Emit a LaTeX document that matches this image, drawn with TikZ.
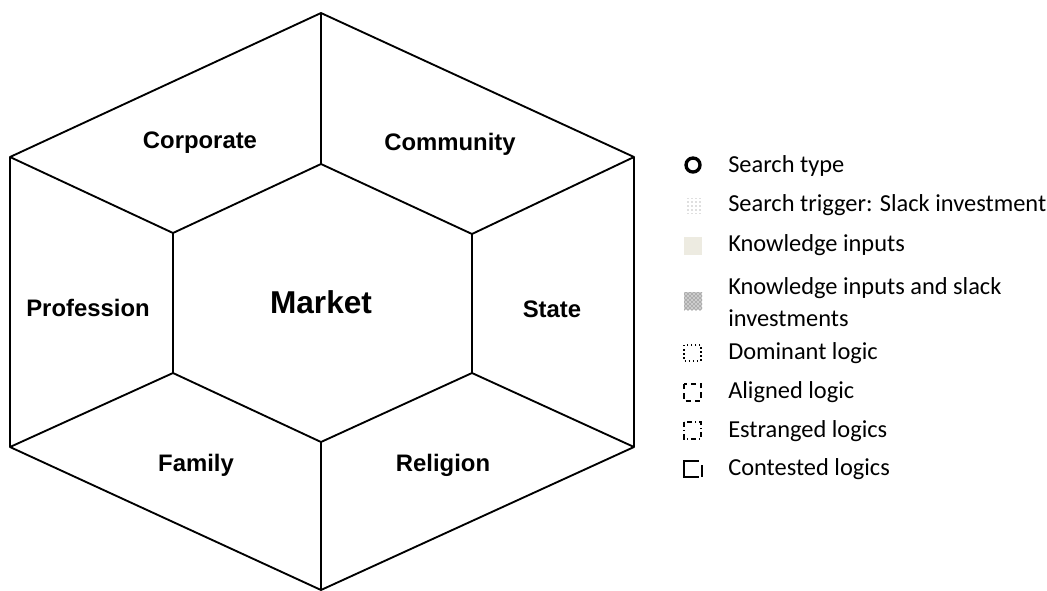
\documentclass[tikz,border=0pt]{standalone}
\usepackage{fontspec}
\setmainfont{Carlito}
\newfontfamily\headfont{Liberation Sans}
\usetikzlibrary{patterns}

\definecolor{beige}{HTML}{EDEBE1}

\tikzset{
  edge/.style={line width=1.4pt, line join=round},
  sector/.style={font=\headfont\bfseries\fontsize{17.9}{20}\selectfont, anchor=base},
  keytext/.style={font=\fontsize{18.3}{24}\selectfont, anchor=west, align=left, inner sep=0pt},
  keybox/.style={line width=1.1pt},
}

\begin{document}
\begin{tikzpicture}[x=0.75pt,y=-0.75pt]
		%%%%% START %%%%%
		\useasboundingbox (0,0) rectangle (1047,590);
		
		% outer hexagon, clockwise from the top
		\coordinate (o1) at (321,13);
		\coordinate (o2) at (634,157);
		\coordinate (o3) at (634,447);
		\coordinate (o4) at (321,590);
		\coordinate (o5) at (10,447);
		\coordinate (o6) at (10,157);
		
		% inner hexagon
		\coordinate (i1) at (321,164);
		\coordinate (i2) at (472,234);
		\coordinate (i3) at (472,373);
		\coordinate (i4) at (321,442);
		\coordinate (i5) at (173,373);
		\coordinate (i6) at (173,233);
		
		\draw[edge] (o1) -- (o2) -- (o3) -- (o4) -- (o5) -- (o6) -- cycle;
		\draw[edge] (i1) -- (i2) -- (i3) -- (i4) -- (i5) -- (i6) -- cycle;
		\foreach \k in {1,...,6}
			\draw[edge] (o\k) -- (i\k);
		
		\node[sector] (corporate) at (200,148) {Corporate};
		\node[sector] (community) at (450,150) {Community};
		\node[sector] (profession) at (88,316) {Profession};
		\node[sector, font=\headfont\bfseries\fontsize{23.7}{26}\selectfont] (market) at (321,313) {Market};
		\node[sector] (state) at (552,317) {State};
		\node[sector] (family) at (196,471) {Family};
		\node[sector] (religion) at (443,471) {Religion};
		
		% legend symbols
		\draw[line width=2.5pt] (693,165) circle (7);
		\fill[pattern=dots, pattern color=black!55] (685,198) rectangle (701,213);
		\fill[beige] (684,237) rectangle (702,255);
		\fill[black!20] (684,292) rectangle (702,310);
		\fill[pattern=crosshatch dots, pattern color=black!70] (684,292) rectangle (702,310);
		
		\draw[keybox, dotted] (684,345) rectangle (701,361);
		\draw[keybox, dash pattern=on 4pt off 3pt] (684,384) rectangle (701,401);
		\draw[keybox, dash pattern=on 4pt off 2pt on 1pt off 2pt] (684,422) rectangle (701,439);
		\draw[keybox] (699,461) -- (684,461) -- (684,477) -- (699,477);
		\draw[keybox] (702,465) -- (702,477);
		
		% legend texts
		\node[keytext] (ktype) at (728,166) {Search type};
		\node[keytext] (ktrigger) at (728,205) {Search trigger: Slack investment};
		\node[keytext] (kinputs) at (728,245) {Knowledge inputs};
		\node[keytext] (kboth) at (728,302) {Knowledge inputs and slack\\investments};
		\node[keytext] (kdominant) at (728,353) {Dominant logic};
		\node[keytext] (kaligned) at (728,392) {Aligned logic};
		\node[keytext] (kestranged) at (728,431) {Estranged logics};
		\node[keytext] (kcontested) at (728,469) {Contested logics};
		
		%%%%% END %%%%%
\end{tikzpicture}
\end{document}
